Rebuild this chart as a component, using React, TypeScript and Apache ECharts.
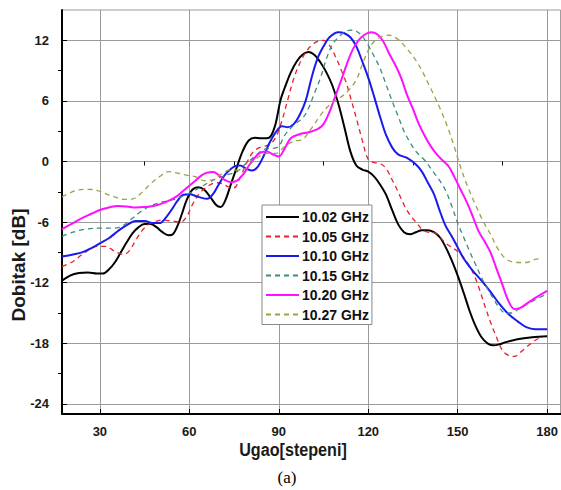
import React, { useEffect, useRef } from "react";
import * as echarts from "echarts";

const xMajorTicks = [30, 60, 90, 120, 150, 180];
const xMinorTicks = [45, 75, 105, 135, 165];
const yMajorTicks = [-24, -18, -12, -6, 0, 6, 12];
const yMinorTicks = [-21, -15, -9, -3, 3, 9];

const seriesNames = ["10.02 GHz", "10.05 GHz", "10.10 GHz", "10.15 GHz", "10.20 GHz", "10.27 GHz"];

const g1002 = [
  [17.3, -11.8], [20, -11.3], [23, -11.05], [26, -11.0], [29, -11.1], [31, -11.1], [33, -10.7], [35, -10.0],
  [37, -9.0], [39, -8.0], [41, -7.1], [43, -6.5], [45, -6.2], [47, -6.2], [49, -6.5], [51, -7.0], [53, -7.3],
  [54.5, -7.2], [56, -6.4], [57.5, -5.2], [59, -3.9], [61, -2.8], [63, -2.55], [65, -2.8], [67, -3.5], [69, -4.3],
  [70.5, -4.5], [72, -3.9], [74, -2.2], [76, -0.5], [78, 1.1], [80, 2.1], [82, 2.35], [84, 2.3], [86, 2.3],
  [87.5, 2.6], [89, 3.8], [90.5, 6.0], [92, 7.3], [94, 8.8], [96, 9.9], [98, 10.6], [100, 10.85], [102, 10.55],
  [104, 9.8], [106, 8.8], [108, 7.5], [110, 5.7], [112, 3.4], [114, 1.0], [116, -0.4], [118, -0.8], [120, -1.0],
  [122, -1.5], [124, -2.3], [126, -3.3], [128, -4.8], [130, -6.2], [132, -7.0], [134, -7.2], [136, -7.0],
  [138, -6.8], [140, -6.8], [142, -7.0], [144, -7.5], [146, -8.5], [148, -9.8], [150, -11.3], [152, -13.0],
  [154, -14.8], [156, -16.3], [158, -17.4], [160, -18.0], [162, -18.2], [164, -18.1], [166, -17.9], [170, -17.6],
  [175, -17.4], [180, -17.3],
];

const g1005 = [
  [17.3, -10.4], [21, -9.9], [25, -9.0], [29, -8.4], [32, -8.4], [35, -8.9], [38, -9.2], [40, -8.8], [42, -7.8],
  [44, -6.9], [46, -6.3], [48, -6.0], [51, -5.8], [54, -5.9], [57, -6.0], [59, -5.5], [61, -4.3], [63, -3.3],
  [65, -2.7], [67, -2.3], [69, -2.1], [71, -2.2], [73, -2.5], [75, -2.6], [77, -1.6], [79, -0.3], [81, 0.8],
  [83, 1.3], [85, 1.5], [87, 1.7], [89, 2.4], [91, 4.0], [93, 6.1], [95, 8.2], [97, 9.7], [99, 10.8], [101, 11.5],
  [103, 11.9], [105, 12.0], [107, 11.5], [109, 10.4], [111, 9.0], [112.5, 7.9], [114, 6.4], [116, 4.3], [118, 2.1],
  [120, 0.2], [122, -0.1], [124, -0.2], [126, -0.7], [128, -1.8], [130, -3.0], [132, -4.3], [134, -5.3],
  [136, -6.0], [138, -6.7], [140, -7.0], [142.6, -7.1], [146, -8.1], [150, -8.9], [152, -9.5], [154.8, -10.8],
  [157, -12.4], [159, -14.2], [161, -15.9], [163, -17.4], [165, -18.7], [167, -19.2], [169, -19.3], [171, -18.9],
  [173, -18.4], [176, -17.7], [178, -17.4],
];

const g1010 = [
  [17.3, -9.4], [21, -9.2], [24, -9.0], [27, -8.6], [30, -8.1], [33, -7.6], [36, -6.9], [39, -6.3], [42, -5.9],
  [45, -5.9], [48, -6.1], [50, -6.1], [52, -5.6], [54, -4.8], [56, -3.9], [58, -3.3], [60, -3.25], [63, -3.5],
  [66, -3.7], [68, -3.2], [70, -2.2], [72, -1.3], [75, -0.5], [77, -0.4], [79, -0.7], [81, -0.9], [83, -0.5],
  [85, 0.6], [87, 1.9], [89, 2.9], [91, 3.5], [93, 3.4], [95, 3.7], [97, 4.6], [99, 6.0], [101, 8.3], [103, 10.2],
  [105, 11.4], [107, 12.3], [110, 12.8], [112, 12.7], [114, 12.3], [116, 11.4], [118, 9.9], [120, 8.3], [122, 6.4],
  [124, 4.4], [126, 2.6], [128, 1.4], [130, 0.7], [133, 0.35], [136, -0.3], [138, -1.0], [140, -2.1], [142, -3.2],
  [144, -4.9], [146, -6.4], [148, -7.4], [150, -8.5], [152, -9.6], [155, -10.8], [158, -11.8], [161, -12.9],
  [164, -14.1], [167, -15.1], [170, -15.8], [173, -16.4], [176, -16.6], [180, -16.6],
];

const g1015 = [
  [17.3, -7.4], [21, -7.0], [25, -6.7], [30, -6.6], [35, -6.6], [38, -6.3], [41, -5.6], [44, -4.9], [47, -4.4],
  [51, -4.0], [55, -3.75], [58, -3.4], [61, -3.0], [64, -2.5], [67, -2.0], [70, -1.6], [73, -1.3], [76, -1.0],
  [79, -0.2], [82, 0.5], [85, 1.2], [88, 1.3], [90, 1.5], [92, 2.6], [95, 3.6], [98, 4.3], [100, 5.3], [102, 6.8],
  [104, 8.3], [106, 10.2], [108, 11.6], [110, 12.3], [112, 12.8], [114, 13.0], [116, 12.9], [118, 12.4],
  [120, 11.5], [122, 10.4], [124, 9.2], [126, 7.6], [128, 6.0], [130, 4.5], [132, 3.0], [134, 1.9], [136, 1.0],
  [139, 0.1], [142, -1.1], [144, -1.9], [146, -2.9], [148, -4.4], [150, -6.1], [152, -7.5], [154, -8.9],
  [156, -10.2], [158, -11.5], [160, -12.6], [162, -13.6], [164, -14.5], [166, -15.0], [168, -15.0], [170, -14.7],
  [174, -14.0], [180, -13.1],
];

const g1020 = [
  [17.3, -6.7], [21, -6.1], [24, -5.6], [27, -5.2], [30, -4.8], [33, -4.55], [36, -4.4], [39, -4.45], [42, -4.55],
  [45, -4.5], [48, -4.4], [50, -4.25], [53, -3.9], [56, -3.4], [58, -2.9], [60, -2.4], [62, -1.9], [64, -1.4],
  [66, -1.1], [68, -1.05], [70, -1.4], [72, -1.85], [74, -2.05], [76, -1.9], [78, -1.3], [80, -0.4], [82, 0.4],
  [84, 0.9], [86, 1.0], [88, 0.7], [90, 0.5], [92, 1.3], [94, 2.3], [97, 2.7], [100, 2.9], [103, 3.2], [105, 3.7],
  [107, 4.9], [109, 6.5], [111, 8.1], [113, 9.8], [115, 11.2], [117, 12.1], [119, 12.6], [121, 12.8], [123, 12.6],
  [125, 11.9], [127, 10.7], [129, 9.6], [131, 8.3], [133, 6.6], [135, 5.2], [137, 3.7], [139, 2.5], [141, 1.5],
  [143, 0.7], [145, 0.1], [147, -0.5], [149, -1.6], [151, -2.8], [153, -4.0], [155, -5.4], [157, -6.9],
  [159, -7.9], [161, -9.0], [163, -10.6], [165, -12.2], [167, -13.8], [169, -14.6], [171, -14.5], [173, -14.1],
  [176, -13.5], [180, -12.8],
];

const g1027 = [
  [17.3, -3.5], [20, -3.1], [23, -2.8], [26, -2.75], [29, -2.85], [32, -3.2], [35, -3.5], [38, -3.75], [41, -3.7],
  [44, -3.1], [47, -2.2], [50, -1.5], [53, -1.0], [56, -1.15], [59, -1.35], [62, -1.5], [65, -1.9], [68, -1.8],
  [71, -1.2], [74, -0.8], [77, -0.9], [80, -0.4], [83, 0.4], [86, 0.8], [89, 0.8], [92, 1.5], [95, 2.0], [98, 2.2],
  [101, 3.3], [104, 4.6], [107, 5.6], [110, 6.2], [113, 6.9], [116, 8.1], [118, 9.6], [120, 11.0], [122, 11.9],
  [124, 12.3], [127, 12.5], [130, 12.1], [132, 11.5], [134, 10.8], [136, 10.0], [138, 9.0], [140, 7.8], [142, 6.6],
  [144.3, 5.1], [146.5, 3.5], [148.7, 1.6], [151, -0.6], [153.5, -2.6], [156, -4.3], [158.5, -5.9], [161, -7.2],
  [163, -8.4], [165, -9.3], [167, -9.8], [170, -10.0], [173, -10.0], [176, -9.7], [178, -9.6],
];

const seriesData = [g1002, g1005, g1010, g1015, g1020, g1027];
const seriesColors = ["#000000", "#e8202a", "#1a1aee", "#3a8c80", "#ff10ff", "#a0a048"];
const seriesDashed = [false, true, false, true, false, true];

const X_MIN = 17.3;
const X_MAX = 184.5;
const Y_MIN = -25;
const Y_MAX = 15;

export default function App() {
  const ref = useRef<HTMLDivElement>(null);
  useEffect(() => {
    if (!ref.current) return;
    const chart = echarts.init(ref.current, null, { renderer: "svg" });
    const font = "'Liberation Sans', Arial, sans-serif";
    const labelStyle = { fontFamily: font, fontWeight: "bold" as const, fontSize: 13, color: "#1a1a1a" };
    chart.setOption({
      animation: false,
      backgroundColor: "#ffffff",
      grid: {
        left: 62,
        top: 10,
        right: -1,
        bottom: 76,
        show: true,
        borderColor: "#999999",
        borderWidth: 1,
        backgroundColor: "transparent",
      },
      legend: {
        orient: "vertical",
        left: 262,
        top: 205,
        padding: [5, 3, 3, 3],
        itemWidth: 33,
        itemHeight: 12,
        itemGap: 5.5,
        backgroundColor: "#ffffff",
        borderColor: "#888888",
        borderWidth: 1,
        borderRadius: 0,
        itemStyle: { opacity: 0 },
        textStyle: { fontFamily: font, fontWeight: "bold", fontSize: 14, color: "#111111", padding: [0, 0, 0, -2] },
        data: seriesNames,
      },
      xAxis: [
        {
          type: "value",
          min: X_MIN,
          max: X_MAX,
          axisLine: { show: true, onZero: false, lineStyle: { color: "#000", width: 2 } },
          axisTick: { show: true, inside: true, length: 5, customValues: xMajorTicks, lineStyle: { color: "#000" } },
          axisLabel: { show: true, margin: 11, customValues: xMajorTicks, ...labelStyle },
          splitLine: { show: true, lineStyle: { color: "#9a9a9a", width: 1 } },
        },
        {
          type: "value",
          min: X_MIN,
          max: X_MAX,
          position: "bottom",
          axisLine: { show: false },
          axisTick: { show: true, length: 4, customValues: xMinorTicks, lineStyle: { color: "#000" } },
          axisLabel: { show: false },
          splitLine: { show: false },
        },
      ],
      yAxis: [
        {
          type: "value",
          min: Y_MIN,
          max: Y_MAX,
          axisLine: { show: true, onZero: false, lineStyle: { color: "#000", width: 2 } },
          axisTick: { show: true, inside: true, length: 5, customValues: yMajorTicks, lineStyle: { color: "#000" } },
          axisLabel: { show: true, margin: 13, customValues: yMajorTicks, ...labelStyle },
          splitLine: { show: true, lineStyle: { color: "#9a9a9a", width: 1 } },
        },
        {
          type: "value",
          min: Y_MIN,
          max: Y_MAX,
          position: "left",
          axisLine: { show: false },
          axisTick: { show: true, length: 4, customValues: yMinorTicks, lineStyle: { color: "#000" } },
          axisLabel: { show: false },
          splitLine: { show: false },
        },
      ],
      series: seriesNames.map((name, i) => ({
        name,
        type: "line",
        data: seriesData[i],
        smooth: 0.35,
        symbol: "none",
        showSymbol: false,
        clip: true,
        color: seriesColors[i],
        lineStyle: {
          color: seriesColors[i],
          width: seriesDashed[i] ? 1.3 : 2,
          type: seriesDashed[i] ? [5, 4] : "solid",
        },
      })),
      graphic: [
        {
          type: "text",
          x: 293,
          y: 450,
          scaleX: 0.85,
          style: {
            text: "Ugao[stepeni]",
            fontFamily: font,
            fontWeight: "bold",
            fontSize: 19,
            fill: "#1a1a1a",
            align: "center",
            verticalAlign: "middle",
          },
        },
        {
          type: "text",
          x: 18,
          y: 265,
          rotation: Math.PI / 2,
          style: {
            text: "Dobitak [dB]",
            fontFamily: font,
            fontWeight: "bold",
            fontSize: 19,
            fill: "#1a1a1a",
            align: "center",
            verticalAlign: "middle",
          },
        },
        {
          type: "text",
          x: 287,
          y: 477,
          style: {
            text: "(a)",
            fontFamily: "'Liberation Serif', 'Times New Roman', serif",
            fontSize: 17,
            fill: "#000",
            align: "center",
            verticalAlign: "middle",
          },
        },
      ],
    });
    return () => chart.dispose();
  }, []);
  return <div ref={ref} style={{ position: "absolute", left: 0, top: 0, width: 561, height: 490 }} />;
}
